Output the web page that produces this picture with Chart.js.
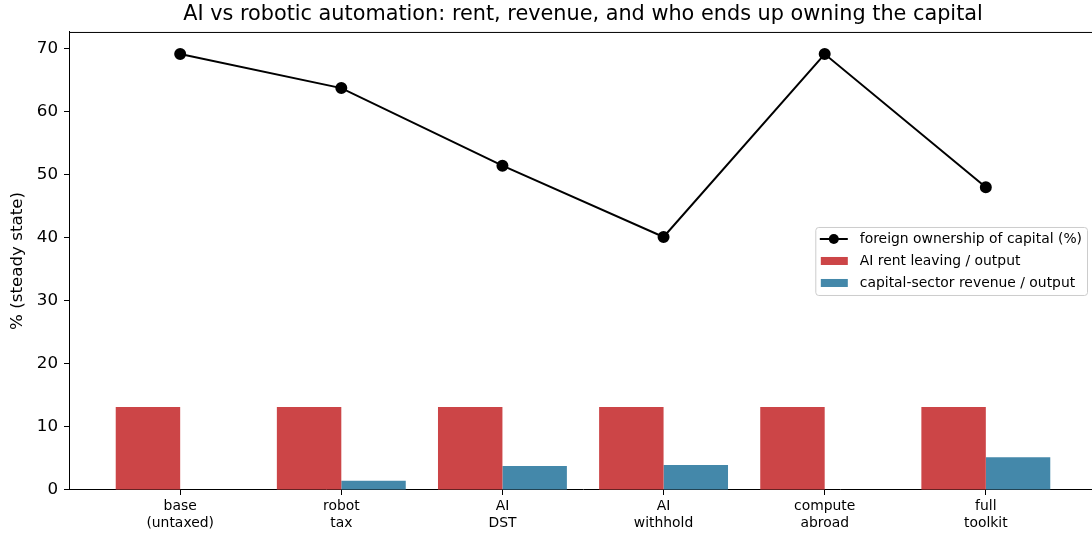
<!DOCTYPE html>
<html>
<head>
<meta charset="utf-8">
<script src="https://cdn.jsdelivr.net/npm/chart.js@4"></script>
<style>
  html, body { margin: 0; padding: 0; background: #fff; overflow: hidden; }
  #wrap { width: 1104px; height: 536px; }
</style>
</head>
<body>
<div id="wrap"><canvas id="chart" width="1104" height="536"></canvas></div>
<script>
// scenario labels (two lines each)
const scenarios = [
  ['base', '(untaxed)'],
  ['robot', 'tax'],
  ['AI', 'DST'],
  ['AI', 'withhold'],
  ['compute', 'abroad'],
  ['full', 'toolkit'],
];

const foreignOwnership = [69.1, 63.7, 51.4, 40.1, 69.1, 48.0];
const aiRentLeaving = [13.15, 13.15, 13.15, 13.15, 13.15, 13.15];
const capitalRevenue = [0, 1.45, 3.8, 3.95, 0, 5.2];

const COLORS = {
  line: '#000000',
  rent: '#cc4547',
  revenue: '#4488aa',
  text: '#000000',
};

const FONT = "'DejaVu Sans', sans-serif";

const asPoints = arr => arr.map((v, i) => ({ x: i, y: v }));

// matplotlib-style spine on top and legend at "center right"
const framePlugin = {
  id: 'frame',
  afterDraw(chart) {
    const { ctx, chartArea: a } = chart;
    ctx.save();
    ctx.strokeStyle = '#000';
    ctx.lineWidth = 1;
    ctx.beginPath();
    ctx.moveTo(a.left, a.top + 0.5);
    ctx.lineTo(a.right, a.top + 0.5);
    ctx.moveTo(a.right - 0.5, a.top);
    ctx.lineTo(a.right - 0.5, a.bottom);
    ctx.stroke();

    // legend
    const items = [
      { text: 'foreign ownership of capital (%)', kind: 'line' },
      { text: 'AI rent leaving / output', kind: 'rent' },
      { text: 'capital-sector revenue / output', kind: 'revenue' },
    ];
    ctx.font = '13.9px ' + FONT;
    const textW = Math.max(...items.map(it => ctx.measureText(it.text).width));
    const pad = 4.5, handleLen = 28, handlePad = 12, rowH = 22;
    const boxW = pad + handleLen + handlePad + textW + 5;
    const boxH = rowH * items.length + 2;
    const right = a.right - 10;
    const left = right - boxW;
    const top = (a.top + a.bottom) / 2 - boxH / 2;

    ctx.fillStyle = 'rgba(255,255,255,0.8)';
    ctx.strokeStyle = '#cccccc';
    ctx.beginPath();
    ctx.roundRect(left + 0.5, top + 0.5, boxW, boxH, 3);
    ctx.fill();
    ctx.stroke();

    items.forEach((it, i) => {
      const cy = top + 12 + i * rowH;
      const hx = left + pad;
      if (it.kind === 'line') {
        ctx.strokeStyle = COLORS.line;
        ctx.lineWidth = 2;
        ctx.beginPath();
        ctx.moveTo(hx, cy);
        ctx.lineTo(hx + handleLen, cy);
        ctx.stroke();
        ctx.fillStyle = COLORS.line;
        ctx.beginPath();
        ctx.arc(hx + handleLen / 2, cy, 5, 0, Math.PI * 2);
        ctx.fill();
      } else {
        ctx.fillStyle = it.kind === 'rent' ? COLORS.rent : COLORS.revenue;
        ctx.fillRect(hx + 1, cy - 4, handleLen - 1, 8);
      }
      ctx.fillStyle = COLORS.text;
      ctx.textBaseline = 'middle';
      ctx.textAlign = 'left';
      ctx.fillText(it.text, hx + handleLen + handlePad, cy + 0.5);
    });
    ctx.restore();
  },
};

const ctx = document.getElementById('chart').getContext('2d');
new Chart(ctx, {
  data: {
    datasets: [
      {
        type: 'line',
        label: 'foreign ownership of capital (%)',
        data: asPoints(foreignOwnership),
        borderColor: COLORS.line,
        backgroundColor: COLORS.line,
        borderWidth: 2,
        pointRadius: 5,
        pointHoverRadius: 5,
        pointBackgroundColor: COLORS.line,
        tension: 0,
        order: 0,
      },
      {
        type: 'bar',
        label: 'AI rent leaving / output',
        data: asPoints(aiRentLeaving),
        backgroundColor: COLORS.rent,
        borderWidth: 0,
        categoryPercentage: 0.8,
        barPercentage: 1.0,
        order: 1,
      },
      {
        type: 'bar',
        label: 'capital-sector revenue / output',
        data: asPoints(capitalRevenue),
        backgroundColor: COLORS.revenue,
        borderWidth: 0,
        categoryPercentage: 0.8,
        barPercentage: 1.0,
        order: 1,
      },
    ],
  },
  options: {
    responsive: false,
    animation: false,
    layout: { padding: { left: 0, right: 3, top: 0, bottom: 0 } },
    plugins: {
      legend: { display: false },
      tooltip: { enabled: false },
      title: {
        display: true,
        fullSize: false,
        text: 'AI vs robotic automation: rent, revenue, and who ends up owning the capital',
        color: COLORS.text,
        font: { family: FONT, size: 20.8, weight: 'normal', lineHeight: 1.2 },
        padding: { top: 2.5, bottom: 4.5 },
      },
    },
    scales: {
      x: {
        type: 'linear',
        min: -0.69,
        max: 5.69,
        offset: false,
        afterBuildTicks: scale => {
          scale.ticks = scenarios.map((_, i) => ({ value: i }));
        },
        afterFit: scale => { scale.height = 46; },
        ticks: {
          autoSkip: false,
          maxRotation: 0,
          padding: 3,
          color: COLORS.text,
          font: { family: FONT, size: 13.9 },
          callback: value => scenarios[value] || '',
        },
        grid: { offset: false, drawOnChartArea: false, drawTicks: true, tickLength: 5, color: '#000' },
        border: { display: true, color: '#000', width: 1 },
      },
      y: {
        min: 0,
        max: 72.6,
        afterFit: scale => { scale.width = 69; },
        ticks: {
          stepSize: 10,
          includeBounds: false,
          padding: 6,
          color: COLORS.text,
          font: { family: FONT, size: 16.7 },
        },
        grid: { drawOnChartArea: false, drawTicks: true, tickLength: 5, color: '#000' },
        border: { display: true, color: '#000', width: 1 },
        title: {
          display: true,
          text: '% (steady state)',
          color: COLORS.text,
          font: { family: FONT, size: 16.7 },
          padding: { top: 8, bottom: 0 },
        },
      },
    },
  },
  plugins: [framePlugin],
});
</script>
</body>
</html>
